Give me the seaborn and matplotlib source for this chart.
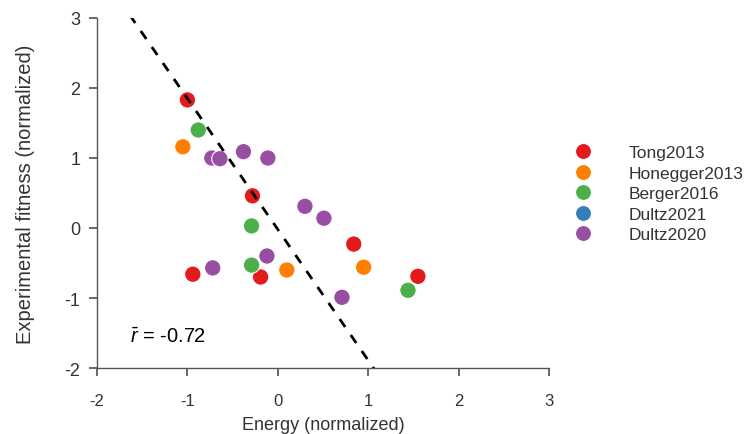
import numpy as np
import pandas as pd
import matplotlib
matplotlib.use("Agg")
import matplotlib.pyplot as plt
import seaborn as sns

# data
tong_x = [-1.00, -0.28, -0.94, -0.19, 0.84, 1.55]
tong_y = [1.83, 0.46, -0.66, -0.70, -0.23, -0.69]
honegger_x = [-1.05, 0.10, 0.95]
honegger_y = [1.16, -0.60, -0.56]
berger_x = [-0.88, -0.29, -0.29, 1.44]
berger_y = [1.40, 0.03, -0.53, -0.89]
dultz2021_x = []
dultz2021_y = []
dultz2020_x = [-0.73, -0.64, -0.38, -0.11, 0.30, 0.51, -0.72, -0.12, 0.71]
dultz2020_y = [1.00, 0.99, 1.09, 1.00, 0.31, 0.14, -0.57, -0.40, -0.99]

studies = ["Tong2013", "Honegger2013", "Berger2016", "Dultz2021", "Dultz2020"]
colors = ["#e41a1c", "#ff7f00", "#4daf4a", "#377eb8", "#984ea3"]

fit_slope = -1.87
fit_intercept = -0.02
r_mean = -0.72

frames = []
for name, xs, ys in zip(studies,
                        [tong_x, honegger_x, berger_x, dultz2021_x, dultz2020_x],
                        [tong_y, honegger_y, berger_y, dultz2021_y, dultz2020_y]):
    frames.append(pd.DataFrame({"Energy": xs, "Fitness": ys, "Study": name}))
df = pd.concat(frames, ignore_index=True)

sns.set_theme(style="ticks")
plt.rcParams["font.family"] = ["Liberation Sans", "DejaVu Sans"]
plt.rcParams["axes.unicode_minus"] = False
plt.rcParams["mathtext.fontset"] = "custom"
plt.rcParams["mathtext.it"] = "Liberation Sans:italic"
plt.rcParams["mathtext.rm"] = "Liberation Sans"

text_col = "#333333"
fig = plt.figure(figsize=(7.46, 4.35), dpi=100)
ax = fig.add_axes([97 / 746, 1 - 369 / 435, 452 / 746, 350 / 435])

# dashed trend line
xx = np.linspace(-2, 3, 50)
ax.plot(xx, fit_slope * xx + fit_intercept, ls=(0, (3.5, 3.5)), color="black", lw=2, zorder=3)

palette = dict(zip(studies, colors))
sns.scatterplot(data=df, x="Energy", y="Fitness", hue="Study", hue_order=studies,
                palette=palette, s=140, edgecolor="white", linewidth=0.8,
                legend=False, ax=ax, zorder=2)

ax.set_xlim(-2, 3)
ax.set_ylim(-2, 3)
ax.set_xticks(range(-2, 4))
ax.set_yticks(range(-2, 4))
for side in ["top", "right"]:
    ax.spines[side].set_visible(False)
for side in ["left", "bottom"]:
    ax.spines[side].set_color("#555555")
    ax.spines[side].set_linewidth(1.0)
ax.tick_params(direction="out", length=6, color="#555555", labelcolor=text_col)
ax.tick_params(axis="x", labelsize=12, pad=12)
ax.tick_params(axis="y", labelsize=13, pad=6)
ax.set_xlabel("Energy (normalized)", fontsize=13, color=text_col, labelpad=6)
ax.set_ylabel("Experimental fitness (normalized)", fontsize=14.5, color=text_col, labelpad=21)

ax.text(-1.63, -1.54, r"$\bar{r}$" + " = " + f"{r_mean:.2f}", fontsize=14.5,
        color="black", ha="left", va="center")

handles = [plt.Line2D([], [], ls="none", marker="o", markersize=11.5,
                      markerfacecolor=c, markeredgecolor="white", markeredgewidth=0.8)
           for c in colors]
fig.legend(handles, studies, loc="upper left", bbox_to_anchor=(566 / 746, 1 - 146 / 435),
           frameon=False, fontsize=12.5, handletextpad=1.6, labelspacing=0.31,
           borderpad=0, borderaxespad=0, labelcolor=text_col)

fig.savefig("out.png", dpi=100)
